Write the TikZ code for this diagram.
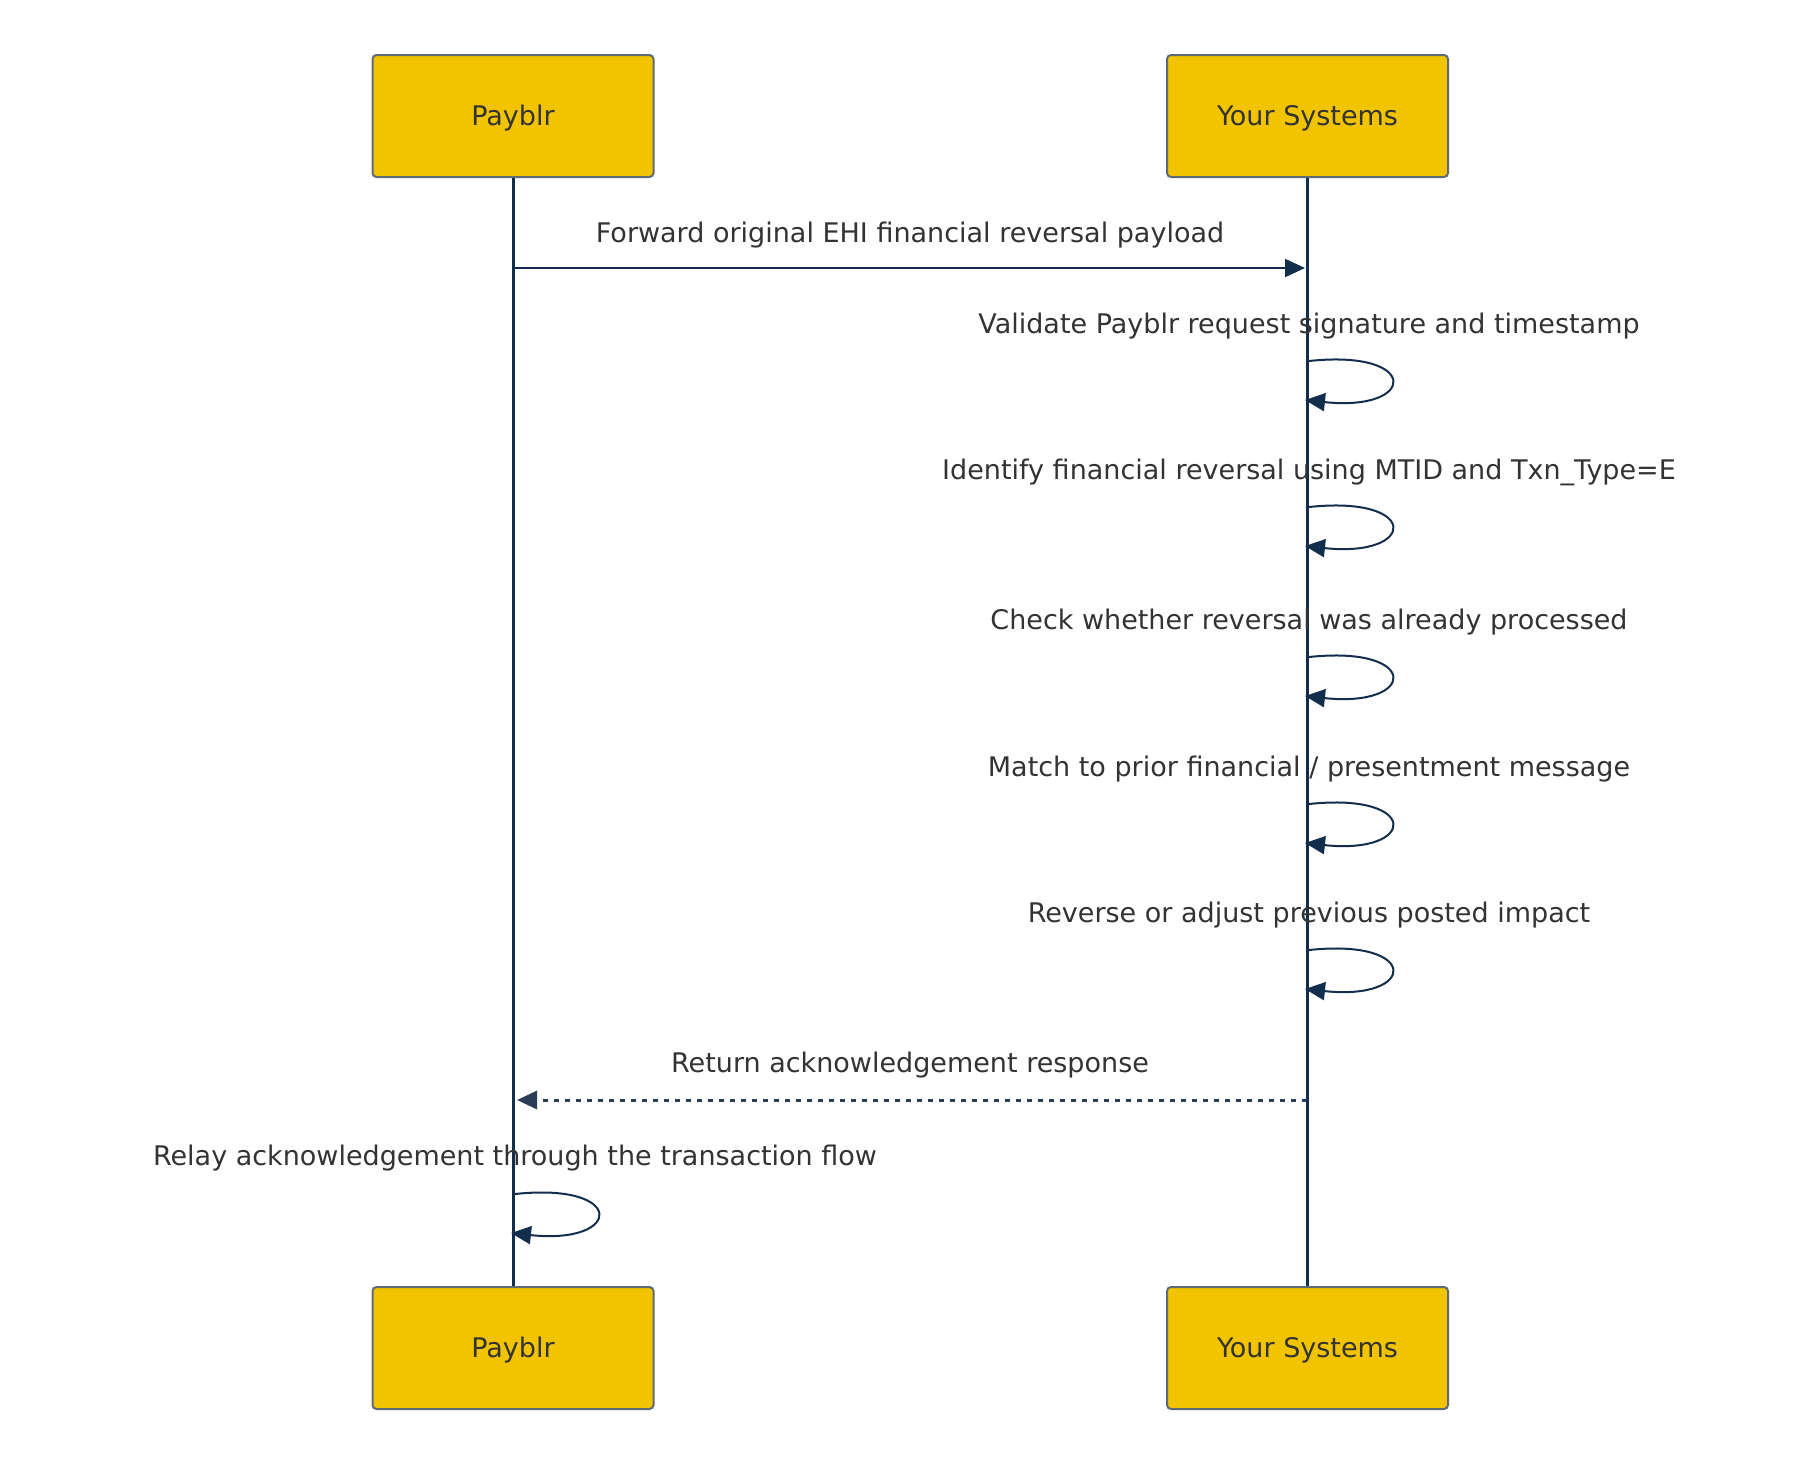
\documentclass[tikz,border=0pt]{standalone}
\usepackage{fontspec}
\setmainfont{DejaVu Sans}
\usetikzlibrary{arrows.meta}
\definecolor{boxfill}{HTML}{F2C400}
\definecolor{boxline}{HTML}{5F6B73}
\definecolor{navy}{HTML}{132E4C}
\definecolor{txt}{HTML}{333333}
\tikzset{
  actor/.style={draw=boxline, line width=2pt, fill=boxfill, rounded corners=4pt,
    minimum width=281pt, minimum height=122pt, text=txt, inner sep=0pt,
    text height=19.5pt, text depth=0pt,
    font=\fontsize{27}{32}\selectfont},
  lifeline/.style={draw=navy, line width=3pt},
  msg/.style={draw=navy, line width=2pt, -{Triangle[length=20pt,width=18pt]}},
  reply/.style={msg, line width=3pt, draw=navy!80!gray, dash pattern=on 5pt off 6pt},
  loopmsg/.style={msg},
  lbl/.style={text=txt, inner sep=0pt, anchor=base, font=\fontsize{27}{32}\selectfont}
}
\begin{document}
\begin{tikzpicture}[x=1pt,y=-1pt]
\fill[white] (0,0) rectangle (1819,1468);
\useasboundingbox (0,0) rectangle (1819,1468);
% actors
\node[actor] (pt) at (513,116) {Payblr};
\node[actor] (yt) at (1307.5,116) {Your Systems};
\node[actor] (pb) at (513,1348) {Payblr};
\node[actor] (yb) at (1307.5,1348) {Your Systems};
% lifelines
\draw[lifeline] (pt.south) -- (pb.north);
\draw[lifeline] (yt.south) -- (yb.north);
% message 1
\coordinate (m1s) at (513,268);
\coordinate (m1e) at (1305,268);
\node[lbl] (t1) at (910,242) {Forward original EHI financial reversal payload};
\draw[msg] (m1s) -- (m1e);
% self loops on Your Systems (y = arrow end)
\foreach \y/\name/\txt in {
  400/a/{Validate Payblr request signature and timestamp},
  546/b/{Identify financial reversal using MTID and Txn\_Type=E},
  696/c/{Check whether reversal was already processed},
  843/d/{Match to prior financial / presentment message},
  989/e/{Reverse or adjust previous posted impact}}{
  \node[lbl] (t\name) at (1309,\y-67) {\txt};
  \coordinate (\name s) at (1309,\y-39);
  \coordinate (\name e) at (1305,\y);
  \draw[loopmsg] (\name s) .. controls +(112,-12) and +(112,12) .. (\name e);
}
% return
\coordinate (rs) at (1307,1100);
\coordinate (re) at (517,1100);
\node[lbl] (tr) at (910,1072) {Return acknowledgement response};
\draw[reply] (rs) -- (re);
% relay loop on Payblr
\node[lbl] (tf) at (515,1165) {Relay acknowledgement through the transaction flow};
\coordinate (fs) at (515,1194);
\coordinate (fe) at (511,1233);
\draw[loopmsg] (fs) .. controls +(112,-12) and +(112,12) .. (fe);
\end{tikzpicture}
\end{document}
